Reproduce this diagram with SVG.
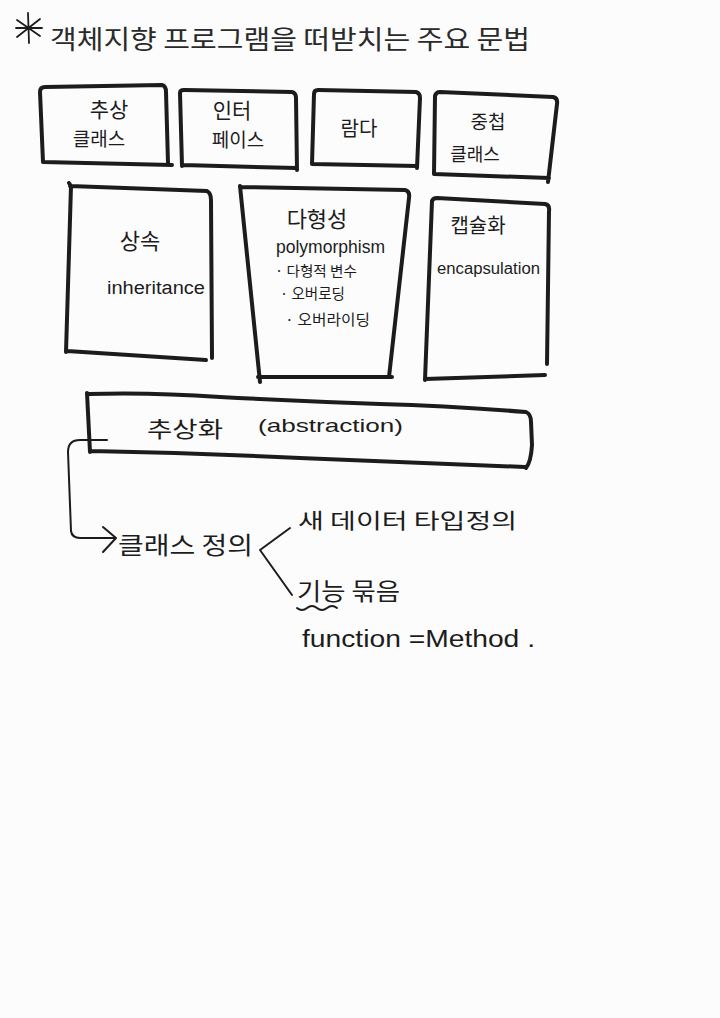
<svg xmlns="http://www.w3.org/2000/svg" width="720" height="1018" viewBox="0 0 720 1018">
<style>
.bg{fill:#fcfcfc}
.box{fill:none;stroke:#1c1c1c;stroke-width:4;stroke-linecap:round;stroke-linejoin:round}
.pen{fill:none;stroke:#1c1c1c;stroke-width:2;stroke-linecap:round;stroke-linejoin:round}
.t{font-family:"Noto Sans CJK KR","Noto Sans",sans-serif;fill:#1c1c1c}
.e{font-family:"Liberation Sans","DejaVu Sans",sans-serif;fill:#1c1c1c}
.title{font-family:"Noto Sans CJK KR","Noto Sans",sans-serif;fill:#2a2a2a;font-size:26px}
.c{text-anchor:middle}
</style>
<rect class="bg" x="0" y="0" width="720" height="1018"/>

<g id="title">
  <path class="pen" d="M28,13 L29,43 M17,20 L40,36 M40,19 L17,37 M16,28 L42,28" style="stroke-width:1.8"/>
  <text class="title" x="50" y="49" textLength="480" lengthAdjust="spacingAndGlyphs">객체지향 프로그램을 떠받치는 주요 문법</text>
</g>

<g id="node-abstract-class">
  <path class="box" d="M43,162 L40,92 Q40,87 45,87 L162,85 Q166,86 166,92 L168,163 M43,162 L172,165"/>
  <text class="t c" x="109" y="117" font-size="21">추상</text>
  <text class="t c" x="99" y="146" font-size="19">클래스</text>
</g>

<g id="node-interface">
  <path class="box" d="M182,166 L180,93 Q180,90 184,90 L292,92 Q296,93 296,98 L297,170 M183,165 L296,168"/>
  <text class="t c" x="232" y="118" font-size="21">인터</text>
  <text class="t c" x="238" y="147" font-size="19">페이스</text>
</g>

<g id="node-lambda">
  <path class="box" d="M312,164 L314,94 Q314,90 318,90 L416,92 Q420,93 420,98 L417,168 M312,164 L417,166"/>
  <text class="t c" x="359" y="136" font-size="20">람다</text>
</g>

<g id="node-nested-class">
  <path class="box" d="M434,174 L435,96 Q436,92 440,92 L553,97 Q558,98 557,104 L548,182 M434,174 L549,178"/>
  <text class="t c" x="488" y="129" font-size="19">중첩</text>
  <text class="t c" x="475" y="161" font-size="18">클래스</text>
</g>

<g id="node-inheritance">
  <path class="box" d="M69,183 L71,186 L66,352 M70,186 L207,191 Q211,193 211,200 L212,358 M67,351 L206,360"/>
  <text class="t c" x="140" y="249" font-size="22">상속</text>
  <text class="e" x="107" y="294" font-size="18" textLength="98" lengthAdjust="spacingAndGlyphs">inheritance</text>
</g>

<g id="node-polymorphism">
  <path class="box" d="M240,186 L260,382 M241,187 L405,190 Q410,191 409,198 L389,377 M258,377 L392,377"/>
  <text class="t c" x="317" y="227" font-size="22">다형성</text>
  <text class="e" x="276" y="253" font-size="19" textLength="109" lengthAdjust="spacingAndGlyphs">polymorphism</text>
  <text class="t" x="275" y="276" font-size="14" textLength="82" lengthAdjust="spacingAndGlyphs">· 다형적 변수</text>
  <text class="t" x="280" y="299" font-size="15" textLength="65" lengthAdjust="spacingAndGlyphs">· 오버로딩</text>
  <text class="t" x="285" y="325" font-size="15" textLength="85" lengthAdjust="spacingAndGlyphs">· 오버라이딩</text>
</g>

<g id="node-encapsulation">
  <path class="box" d="M425,380 L432,201 Q433,198 437,198 L545,204 Q550,205 549,211 L547,364 M425,379 L545,375"/>
  <text class="t c" x="478" y="233" font-size="20">캡슐화</text>
  <text class="e" x="437" y="274" font-size="16" textLength="103" lengthAdjust="spacingAndGlyphs">encapsulation</text>
</g>

<g id="node-abstraction">
  <path class="box" d="M87,393 L90,452 M88,394 Q150,392 220,397 Q300,401 380,404 Q450,406 526,412 Q531,414 531,422 L532,445 Q531,462 526,468 M91,451 Q200,453 300,458 Q420,463 525,467"/>
  <text class="t" x="147" y="437" font-size="22" textLength="76" lengthAdjust="spacingAndGlyphs">추상화</text>
  <text class="e" x="258" y="432" font-size="19" textLength="145" lengthAdjust="spacingAndGlyphs">(abstraction)</text>
</g>

<g id="connectors">
  <path class="pen" d="M107,440 L80,440 Q68,440 68,452 L71,531 Q72,538 80,538 L115,538"/>
  <path class="pen" d="M103,527 L116,538 L103,552"/>
  <path class="pen" d="M290,528 L260,550 L292,595"/>
  <path class="pen" d="M297,608 q5,4 10,0 t10,0 t10,0 t10,0"/>
</g>

<g id="node-class-def">
  <text class="t" x="118" y="554" font-size="24" textLength="135" lengthAdjust="spacingAndGlyphs">클래스 정의</text>
</g>
<g id="node-new-type">
  <text class="t" x="298" y="528" font-size="21" textLength="219" lengthAdjust="spacingAndGlyphs">새 데이터 타입정의</text>
</g>
<g id="node-functions">
  <text class="t" x="297" y="600" font-size="24" textLength="103" lengthAdjust="spacingAndGlyphs">기능 묶음</text>
  <text class="e" x="302" y="647" font-size="23" textLength="233" lengthAdjust="spacingAndGlyphs">function =Method .</text>
</g>
</svg>
